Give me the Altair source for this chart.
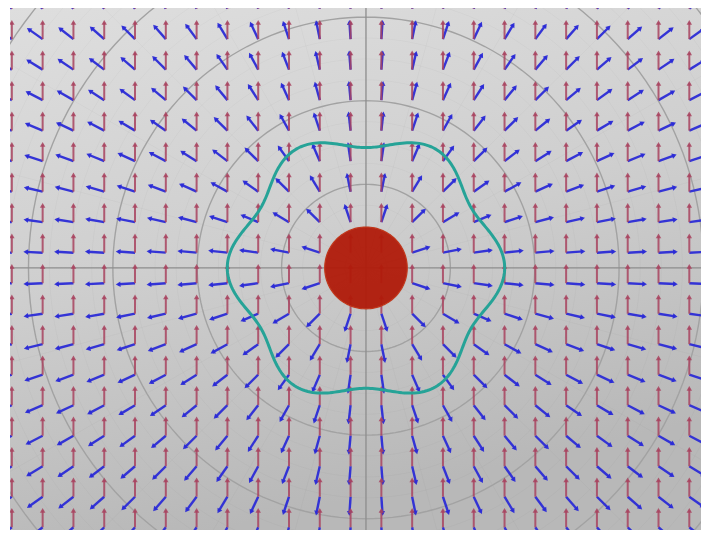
import numpy as np
import pandas as pd
import altair as alt

# ---- values (data units: one grid step = 1) ----
grid_x = [v + 0.5 for v in range(-12, 11)]        # -11.5 ... 10.5
grid_y = [v + 0.5 for v in range(-9, 9)]          # -8.5 ... 8.5
arrow_len = 0.65
disc_radius = 1.34
curve_r0 = 4.225
curve_amp = 0.28
curve_lobes = 6
ring_step = 2.74
ring_count = 8
minor_ring_step = ring_step / 4
radial_angles = list(range(0, 360, 15))

XDOM = [-11.56, 10.88]
YDOM = [-8.59, 8.52]
W, H = 691, 522

RED = "#a8435f"
BLUE = "#2b2bd6"
DISC = "#b01a0a"
TEAL = "#26a397"

xs = alt.Scale(domain=XDOM, nice=False, zero=False)
ys = alt.Scale(domain=YDOM, nice=False, zero=False)

def X(f="x"):
    return alt.X(f"{f}:Q", scale=xs, axis=None)

def Y(f="y"):
    return alt.Y(f"{f}:Q", scale=ys, axis=None)

# ---- background ----
bg = alt.Chart(pd.DataFrame({"a": [0]})).mark_rect(
    color=alt.Gradient(
        gradient="linear",
        stops=[alt.GradientStop(color="#dedede", offset=0),
               alt.GradientStop(color="#cfcfcf", offset=0.5),
               alt.GradientStop(color="#b8b8b8", offset=1)],
        x1=0, x2=0.3, y1=0, y2=1,
    )
).encode(x=alt.value(0), x2=alt.value(W), y=alt.value(0), y2=alt.value(H))

# ---- polar grid ----
th = np.radians(np.arange(0, 361, 2))
rows = []
for k in range(1, ring_count * 4 + 1):
    r = k * minor_ring_step
    major = (k % 4 == 0)
    for i, t in enumerate(th):
        rows.append({"ring": k, "i": i, "x": r * np.cos(t), "y": r * np.sin(t), "major": major})
rings = pd.DataFrame(rows)

minor = alt.Chart(rings[~rings.major]).mark_line(
    clip=True, color="#000000", opacity=0.025, strokeWidth=1
).encode(x=X(), y=Y(), detail="ring:N", order="i:Q")

major = alt.Chart(rings[rings.major]).mark_line(
    clip=True, color="#a2a2a2", strokeWidth=1.4
).encode(x=X(), y=Y(), detail="ring:N", order="i:Q")

rad = pd.DataFrame({
    "x": [0.0] * len(radial_angles),
    "y": [0.0] * len(radial_angles),
    "x2": [30 * np.cos(np.radians(a)) for a in radial_angles],
    "y2": [30 * np.sin(np.radians(a)) for a in radial_angles],
})
radials = alt.Chart(rad).mark_rule(
    clip=True, color="#000000", opacity=0.025, strokeWidth=1
).encode(x=X(), y=Y(), x2="x2:Q", y2="y2:Q")

axes_df = pd.DataFrame({
    "x": [0.0, XDOM[0]], "y": [YDOM[0], 0.0],
    "x2": [0.0, XDOM[1]], "y2": [YDOM[1], 0.0],
})
axes_lines = alt.Chart(axes_df).mark_rule(
    clip=True, color="#8e8e8e", strokeWidth=1.3
).encode(x=X(), y=Y(), x2="x2:Q", y2="y2:Q")

# ---- vector field ----
b_rows, r_rows = [], []
for gx in grid_x:
    for gy in grid_y:
        r = float(np.hypot(gx, gy))
        ux, uy = gx / r, gy / r
        if r > disc_radius:
            b_rows.append({
                "x": gx, "y": gy,
                "x2": gx + (arrow_len - 0.1) * ux, "y2": gy + (arrow_len - 0.1) * uy,
                "hx": gx + (arrow_len - 0.1) * ux, "hy": gy + (arrow_len - 0.1) * uy,
                "ang": float(np.degrees(np.arctan2(ux, uy)) % 360),
            })
        r_rows.append({
            "x": gx, "y": gy,
            "x2": gx, "y2": gy + arrow_len - 0.1,
            "hx": gx, "hy": gy + arrow_len - 0.1,
            "ang": 0.0,
        })
bdf = pd.DataFrame(b_rows)
rdf = pd.DataFrame(r_rows)

def arrows(df, color, width, op):
    shaft = alt.Chart(df).mark_rule(
        clip=True, color=color, strokeWidth=width, opacity=op
    ).encode(x=X(), y=Y(), x2="x2:Q", y2="y2:Q")
    head = alt.Chart(df).mark_point(
        clip=True, shape="triangle-up", filled=True, color=color, size=30, opacity=op
    ).encode(x=X("hx"), y=Y("hy"), angle=alt.Angle("ang:Q", scale=None))
    return shaft + head

blue = arrows(bdf, BLUE, 2.4, 0.95)
red = arrows(rdf, RED, 2.0, 0.85)

# ---- central disc ----
dth = np.radians(np.arange(0, 361, 3))
disc_df = pd.DataFrame({"i": range(len(dth)),
                        "x": disc_radius * np.cos(dth),
                        "y": disc_radius * np.sin(dth)})
disc = alt.Chart(disc_df).mark_line(
    clip=True, color=DISC, fill=DISC, fillOpacity=0.95, strokeWidth=1.2, stroke="#c0361a"
).encode(x=X(), y=Y(), order="i:Q")

# ---- wavy closed curve ----
cth = np.radians(np.arange(0, 360.5, 1.0))
cr = curve_r0 + curve_amp * np.cos(curve_lobes * cth)
curve_df = pd.DataFrame({"i": range(len(cth)), "x": cr * np.cos(cth), "y": cr * np.sin(cth)})
curve = alt.Chart(curve_df).mark_line(
    clip=True, color=TEAL, strokeWidth=3
).encode(x=X(), y=Y(), order="i:Q")

chart = alt.layer(
    bg, minor, radials, major, axes_lines, blue, red, disc, curve
).properties(
    width=W, height=H,
    autosize=alt.AutoSizeParams(type="none"),
    padding={"left": 2, "top": 0, "right": 0, "bottom": 0},
).configure_view(stroke=None)

chart.save("out.html", embed_options={"renderer": "svg", "actions": False})
